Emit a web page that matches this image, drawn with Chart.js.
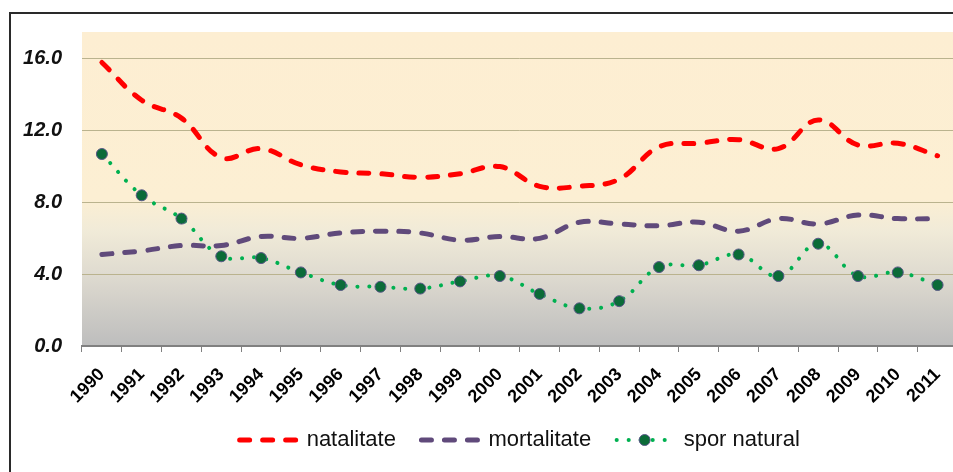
<!DOCTYPE html>
<html>
<head>
<meta charset="utf-8">
<script src="https://cdn.jsdelivr.net/npm/chart.js@4.4.1/dist/chart.umd.min.js"></script>
<style>
  html, body { margin: 0; padding: 0; background: #fff; overflow: hidden; }
  #frame { position: absolute; left: 9px; top: 12px; width: 1000px; height: 520px;
           border-top: 2px solid #2a2a2a; border-left: 2px solid #2a2a2a; }
  #wrap { position: absolute; left: 0; top: 0; width: 965px; height: 472px; }
</style>
</head>
<body>
<div id="frame"></div>
<div id="wrap"><canvas id="chart"></canvas></div>
<script>
// Categories and series (rates per 1000 inhabitants)
const years = ['1990', '1991', '1992', '1993', '1994', '1995', '1996', '1997', '1998', '1999', '2000',
               '2001', '2002', '2003', '2004', '2005', '2006', '2007', '2008', '2009', '2010', '2011'];
const natalitate  = [15.8, 13.7, 12.7, 10.5, 11.0, 10.1, 9.7, 9.6, 9.4, 9.6, 10.0,
                     8.9, 8.9, 9.3, 11.1, 11.3, 11.5, 11.0, 12.6, 11.2, 11.3, 10.6];
const mortalitate = [5.1, 5.3, 5.6, 5.6, 6.1, 6.0, 6.3, 6.4, 6.3, 5.9, 6.1,
                     6.0, 6.9, 6.8, 6.7, 6.9, 6.4, 7.1, 6.8, 7.3, 7.1, 7.1];
const sporNatural = [10.7, 8.4, 7.1, 5.0, 4.9, 4.1, 3.4, 3.3, 3.2, 3.6, 3.9,
                     2.9, 2.1, 2.5, 4.4, 4.5, 5.1, 3.9, 5.7, 3.9, 4.1, 3.4];
const yTicks = [0, 4, 8, 12, 16];

const fontFamily = '"Liberation Sans", Arial, sans-serif';

// Gradient fill behind the plot area
const plotBackground = {
  id: 'plotBackground',
  beforeDraw(chart) {
    const {ctx, chartArea: a} = chart;
    const g = ctx.createLinearGradient(0, a.top, 0, a.bottom);
    g.addColorStop(0, '#FDEED2');
    g.addColorStop(0.53, '#FCEFD3');
    g.addColorStop(0.63, '#F1EBD8');
    g.addColorStop(0.77, '#DFDBD0');
    g.addColorStop(1, '#BDBDBD');
    ctx.save();
    ctx.fillStyle = g;
    ctx.fillRect(a.left, a.top, a.right - a.left, a.bottom - a.top);
    ctx.restore();
  }
};

// Adds the round marker in the middle of the "spor natural" legend line
const legendMarker = {
  id: 'legendMarker',
  afterDraw(chart) {
    const legend = chart.legend;
    const box = legend.legendHitBoxes[2];
    const ds = chart.data.datasets[2];
    const ctx = chart.ctx;
    const cx = box.left + legend.options.labels.pointStyleWidth / 2;
    const cy = box.top + box.height / 2;
    ctx.save();
    ctx.beginPath();
    ctx.arc(cx, cy, ds.pointRadius, 0, Math.PI * 2);
    ctx.fillStyle = ds.pointBackgroundColor;
    ctx.fill();
    ctx.lineWidth = ds.pointBorderWidth;
    ctx.strokeStyle = ds.pointBorderColor;
    ctx.stroke();
    ctx.restore();
  }
};

new Chart(document.getElementById('chart').getContext('2d'), {
  type: 'line',
  data: {
    labels: years,
    datasets: [
      {
        label: 'natalitate',
        data: natalitate,
        borderColor: '#FF0000',
        backgroundColor: '#FF0000',
        borderWidth: 5,
        borderDash: [10, 13],
        borderCapStyle: 'round',
        pointRadius: 0,
        tension: 0.4
      },
      {
        label: 'mortalitate',
        data: mortalitate,
        borderColor: '#604A7B',
        backgroundColor: '#604A7B',
        borderWidth: 5,
        borderDash: [10, 13],
        borderCapStyle: 'round',
        pointRadius: 0,
        tension: 0.4
      },
      {
        label: 'spor natural',
        data: sporNatural,
        borderColor: '#00B050',
        backgroundColor: '#00B050',
        borderWidth: 4,
        borderDash: [0.1, 11.9],
        borderCapStyle: 'round',
        pointRadius: 5.5,
        pointBackgroundColor: '#0B6B38',
        pointBorderColor: '#5A5888',
        pointBorderWidth: 1,
        tension: 0.4
      }
    ]
  },
  options: {
    responsive: true,
    maintainAspectRatio: false,
    animation: false,
    layout: { padding: { left: 0, right: 0, top: 32, bottom: 11 } },
    plugins: {
      tooltip: { enabled: false },
      legend: {
        position: 'bottom',
        fullSize: false,
        labels: {
          usePointStyle: true,
          pointStyle: 'line',
          pointStyleWidth: 56,
          padding: 25.5,
          color: '#111',
          font: { family: fontFamily, size: 22 },
          generateLabels(chart) {
            return chart.data.datasets.map((ds, i) => ({
              text: ds.label,
              datasetIndex: i,
              fillStyle: ds.borderColor,
              strokeStyle: ds.borderColor,
              lineWidth: ds.borderWidth,
              lineDash: ds.borderDash,
              lineCap: ds.borderCapStyle,
              pointStyle: 'line',
              fontColor: '#111',
              hidden: false
            }));
          }
        }
      }
    },
    scales: {
      x: {
        offset: true,
        afterFit(scale) { scale.height = 57.5; },
        border: { display: true, color: '#808080', width: 2 },
        grid: {
          display: true,
          offset: true,
          drawOnChartArea: false,
          drawTicks: true,
          tickLength: 6,
          color: '#808080',
          lineWidth: 1
        },
        ticks: {
          autoSkip: false,
          maxRotation: 45,
          minRotation: 45,
          padding: 12,
          color: '#000',
          font: { family: fontFamily, size: 18, weight: 'bold' }
        }
      },
      y: {
        min: 0,
        max: 17.5,
        afterBuildTicks(scale) { scale.ticks = yTicks.map(v => ({ value: v })); },
        afterFit(scale) { scale.width = 82; },
        border: { display: false },
        grid: {
          color: ctx => ctx.tick && ctx.tick.value === 0 ? 'rgba(0,0,0,0)' : '#BAB38E',
          drawTicks: false,
          lineWidth: 1
        },
        ticks: {
          padding: 20,
          color: '#111',
          font: { family: fontFamily, size: 20, weight: 'bold', style: 'italic' },
          callback: v => Number(v).toFixed(1)
        }
      }
    }
  },
  plugins: [plotBackground, legendMarker]
});
</script>
</body>
</html>
